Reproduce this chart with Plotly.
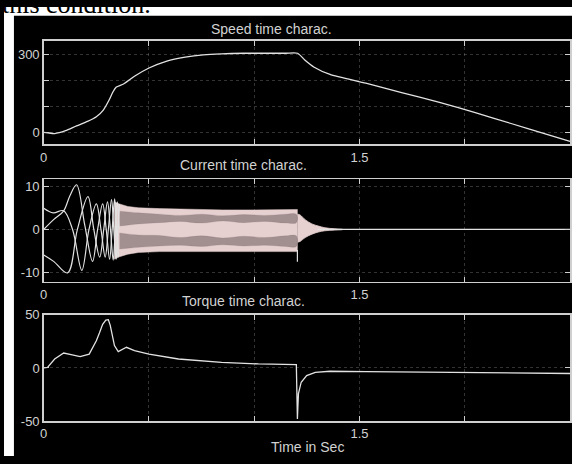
import plotly.graph_objects as go

# ---------------- data ----------------
# Speed vs time (s)
speed_t = [0, 0.02, 0.052, 0.104, 0.156, 0.208, 0.25, 0.283, 0.31, 0.328, 0.345, 0.379,
           0.431, 0.5, 0.585, 0.672, 0.758, 0.844, 0.95, 1.05, 1.15, 1.206, 1.24, 1.285,
           1.36, 1.53, 1.70, 1.88, 2.05, 2.22, 2.39, 2.5]
speed_v = [0, -2, -5, 6, 25, 42, 60, 86, 124, 155, 175, 187, 217, 249, 276, 291, 300,
           304, 306, 306, 306, 306, 280, 252, 224, 190, 154, 116, 76, 34, -8, -35]

# Current: three phases during the low-frequency start-up
ia_t = [0, 0.047, 0.094, 0.125, 0.156, 0.195, 0.232, 0.256, 0.280, 0.297, 0.313, 0.325, 0.337, 0.346, 0.355]
ia_v = [0, 2.3, 4.3, 8.0, 10.5, 1.0, -7.5, 0.0, 6.0, 0.0, -7.0, 0.0, 7.2, 0.0, -6.5]
ib_t = [0, 0.045, 0.094, 0.137, 0.181, 0.215, 0.250, 0.272, 0.292, 0.307, 0.322, 0.333, 0.344, 0.352, 0.360]
ib_v = [5.0, 3.9, 4.4, 0.0, -9.6, 0.0, 6.0, 0.0, -6.5, 0.0, 7.0, 0.0, -7.0, 0.0, 6.0]
ic_t = [0, 0.047, 0.113, 0.160, 0.210, 0.238, 0.266, 0.285, 0.303, 0.317, 0.330, 0.340, 0.350, 0.358]
ic_v = [-6.0, -7.5, -10.2, 0.0, 7.7, 0.0, -6.5, 0.0, 6.5, 0.0, -7.2, 0.0, 6.5, 0.0]

# Current: envelope of the dense high-frequency band
band_t = [0.335, 0.36, 0.40, 0.45, 0.55, 0.70, 0.85, 1.00, 1.10, 1.205]
band_up = [6.5, 6.0, 5.4, 5.1, 4.9, 4.7, 4.6, 4.6, 4.7, 4.7]
band_lo = [-7.0, -6.4, -5.8, -5.4, -5.2, -5.1, -5.1, -5.2, -5.2, -5.2]
# darker inner stripes of the band
str_t = [0.36, 0.45, 0.55, 0.65, 0.75, 0.85, 0.95, 1.05, 1.15, 1.2]
str1_top = [4.3, 3.9, 3.6, 3.3, 3.6, 3.2, 3.5, 3.3, 3.6, 3.6]
str1_bot = [0.8, 1.3, 1.6, 1.9, 1.5, 2.0, 1.6, 1.9, 1.5, 1.6]
str2_top = [-0.8, -1.3, -1.4, -1.9, -1.5, -2.0, -1.6, -1.9, -1.5, -1.5]
str2_bot = [-4.6, -4.2, -3.9, -3.7, -4.0, -3.6, -3.9, -3.7, -4.0, -4.0]
# decay after switching
taper_t = [1.205, 1.218, 1.242, 1.274, 1.305, 1.336, 1.383, 1.42]
taper_up = [3.6, 3.4, 2.3, 1.3, 0.8, 0.4, 0.15, 0.02]
taper_lo = [-3.0, -2.8, -1.9, -1.1, -0.6, -0.3, -0.15, -0.02]
spike_t = [1.205, 1.205]
spike_v = [-4.8, -7.6]
tail_t = [1.30, 2.5]
tail_v = [0, 0]

# Torque
torque_t = [0, 0.018, 0.052, 0.095, 0.13, 0.173, 0.216, 0.25, 0.265, 0.28, 0.295, 0.307,
            0.316, 0.326, 0.336, 0.354, 0.372, 0.393, 0.431, 0.5, 0.64, 0.845, 1.02, 1.2,
            1.205, 1.21, 1.223, 1.249, 1.29, 1.36, 1.53, 2.0, 2.5]
torque_v = [0, 0.6, 8.4, 14, 12.5, 10.6, 13, 25.6, 33, 41, 45, 45.3,
            40, 29, 21, 15.3, 17.5, 19.4, 16.3, 13, 8.4, 5.3, 3.75, 3.1,
            -48, -24, -13.4, -7.2, -4.1, -3.1, -3.4, -4.3, -5.2]

x_ticks = [0, 0.5, 1.0, 1.5, 2.0, 2.5]
x_ticktext = ["0", "", "", "1.5", "", ""]

# ---------------- figure ----------------
W, H = 572, 464
LINE = "#e2e2e2"
TXT = "#d2d2d2"
PINK = "#e6d0d0"
STRIPE = "rgba(120,104,104,0.62)"

fig = go.Figure()

fig.add_trace(go.Scatter(x=speed_t, y=speed_v, mode="lines",
                         line=dict(color=LINE, width=1.3, shape="spline", smoothing=0.6),
                         xaxis="x", yaxis="y", hoverinfo="skip"))

# current band
fig.add_trace(go.Scatter(x=band_t + band_t[::-1], y=band_up + band_lo[::-1], fill="toself", fillcolor=PINK,
                         mode="lines", line=dict(color=PINK, width=0.5), xaxis="x2", yaxis="y2", hoverinfo="skip"))
fig.add_trace(go.Scatter(x=taper_t + taper_t[::-1], y=taper_up + taper_lo[::-1], fill="toself", fillcolor=PINK,
                         mode="lines", line=dict(color=PINK, width=0.8, shape="spline"),
                         xaxis="x2", yaxis="y2", hoverinfo="skip"))
for top, bot in ((str1_top, str1_bot), (str2_top, str2_bot)):
    fig.add_trace(go.Scatter(x=str_t + str_t[::-1], y=top + bot[::-1], fill="toself",
                             fillcolor=STRIPE, mode="lines",
                             line=dict(color="rgba(120,104,104,0.3)", width=0.5, shape="spline"),
                             xaxis="x2", yaxis="y2", hoverinfo="skip"))
for tt, vv in ((ia_t, ia_v), (ib_t, ib_v), (ic_t, ic_v)):
    fig.add_trace(go.Scatter(x=tt, y=vv, mode="lines",
                             line=dict(color=LINE, width=1.2, shape="spline", smoothing=1.0),
                             xaxis="x2", yaxis="y2", hoverinfo="skip"))
fig.add_trace(go.Scatter(x=spike_t, y=spike_v, mode="lines", line=dict(color=LINE, width=1.2),
                         xaxis="x2", yaxis="y2", hoverinfo="skip"))
fig.add_trace(go.Scatter(x=tail_t, y=tail_v, mode="lines", line=dict(color=LINE, width=1.2),
                         xaxis="x2", yaxis="y2", hoverinfo="skip"))

fig.add_trace(go.Scatter(x=torque_t, y=torque_v, mode="lines", line=dict(color=LINE, width=1.3),
                         xaxis="x3", yaxis="y3", hoverinfo="skip"))


def xdom():
    return [40 / W, 570 / W]


def ydom(top_px, bot_px):
    return [1 - bot_px / H, 1 - top_px / H]


common = dict(showline=True, linecolor="#cfcfcf", linewidth=1.5, mirror="ticks",
              ticks="inside", ticklen=5, tickcolor="#cfcfcf", tickwidth=1,
              showgrid=True, gridcolor="rgba(170,170,170,0.3)", griddash="dot", gridwidth=1,
              zeroline=False, tickfont=dict(family="Liberation Sans, Arial", size=13, color=TXT))

xa = dict(common, range=[0, 2.5], domain=xdom(), tickvals=x_ticks, ticktext=x_ticktext)

fig.update_layout(
    width=W, height=H, margin=dict(l=0, r=0, t=0, b=0),
    paper_bgcolor="black", plot_bgcolor="black", showlegend=False,
    xaxis=dict(xa, anchor="y"),
    xaxis2=dict(xa, anchor="y2"),
    xaxis3=dict(xa, anchor="y3"),
    yaxis=dict(common, range=[-47, 354], domain=ydom(35, 142), tickvals=[0, 100, 200, 300],
               ticktext=["0", "", "", "300"], anchor="x"),
    yaxis2=dict(common, range=[-12.3, 11.8], domain=ydom(178, 284), tickvals=[-10, 0, 10],
                ticktext=["-10", "0", "10"], anchor="x2"),
    yaxis3=dict(common, range=[-50, 50], domain=ydom(318, 428), tickvals=[-50, 0, 50],
                ticktext=["-50", "0", "50"], anchor="x3"),
)


def ann(text, px, py, size=14, color=TXT, family="Liberation Sans, Arial", xanchor="center", yanchor="middle"):
    fig.add_annotation(text=text, x=px / W, y=1 - py / H, xref="paper", yref="paper", showarrow=False,
                       xanchor=xanchor, yanchor=yanchor, font=dict(family=family, size=size, color=color))


ann("Speed time charac.", 269, 23)
ann("Current time charac.", 241, 163)
ann("Torque time charac.", 241, 304)
ann("Time in Sec", 306, 455)

# white page margins of the scan and the cut-off caption line above
fig.add_shape(type="rect", xref="paper", yref="paper", x0=0, x1=1, y0=1 - 9 / H, y1=1,
              fillcolor="white", line=dict(width=0), layer="above")
fig.add_shape(type="rect", xref="paper", yref="paper", x0=0, x1=10 / W, y0=0, y1=1,
              fillcolor="white", line=dict(width=0), layer="above")
ann("this condition.", -4, 14, size=26, color="black", family="Liberation Serif, Times New Roman",
    xanchor="left", yanchor="bottom")

fig.write_html("out.html",
               config={"displayModeBar": False, "staticPlot": True},
               post_script="document.body.style.margin='0px';document.body.style.overflow='hidden';")
